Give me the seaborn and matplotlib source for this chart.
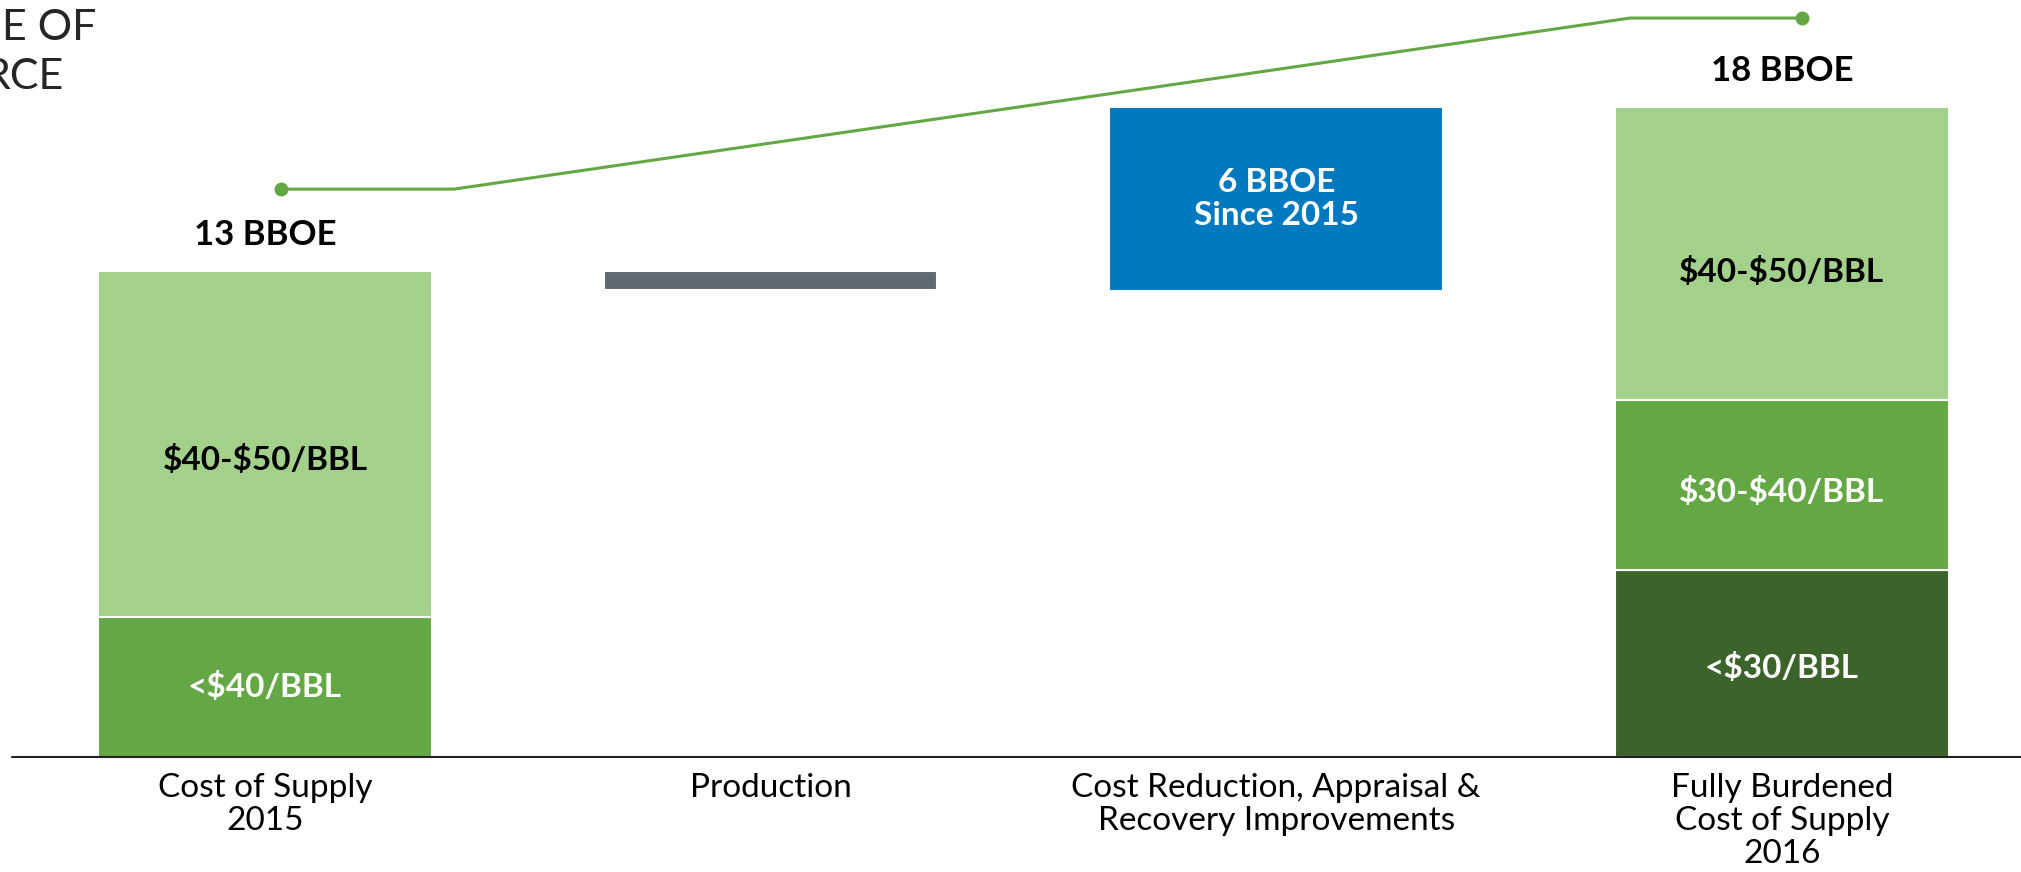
import matplotlib
matplotlib.use("Agg")
import matplotlib.pyplot as plt
import seaborn as sns
import pandas as pd

# categories on the x axis
categories = ["Cost of Supply\n2015", "Production",
              "Cost Reduction, Appraisal &\nRecovery Improvements",
              "Fully Burdened\nCost of Supply\n2016"]

# waterfall segments (BBOE, schematic as drawn)
seg_category = [0, 0, 1, 2, 3, 3, 3]
seg_bottom = [0.0, 3.88, 12.94, 12.91, 0.0, 5.18, 9.89]
seg_height = [3.88, 9.58, 0.52, 5.09, 5.18, 4.71, 8.11]
seg_label = ["<$40/BBL", "$40-$50/BBL", "", "6 BBOE\nSince 2015",
             "<$30/BBL", "$30-$40/BBL", "$40-$50/BBL"]
seg_color = ["#63A844", "#A3D08B", "#5D6A72", "#0079C1",
             "#3B632A", "#63A844", "#A3D08B"]
seg_text_color = ["white", "black", "white", "white", "white", "white", "black"]
label_shift = [0.0, -0.45, 0.0, 0.0, -0.12, -0.2, -0.5]

# totals above bars
total_category = [0, 3]
total_value = [13.46, 18.0]
total_label = ["13 BBOE", "18 BBOE"]

# green trend line across the top
trend_x = [0.032, 0.374, 2.70, 3.04]
trend_y = [15.73, 15.73, 20.47, 20.47]

sns.set_style("white")
plt.rcParams['font.family'] = ['Lato', 'DejaVu Sans']

fig = plt.figure(figsize=(20.21, 8.72), dpi=100)
ax = fig.add_axes([0, 0, 1, 1])

df = pd.DataFrame({"cat": [categories[i] for i in seg_category],
                   "height": seg_height, "bottom": seg_bottom,
                   "color": seg_color})

for i, row in df.iterrows():
    sns.barplot(x=[row["cat"]], y=[row["height"]], order=categories,
                bottom=row["bottom"], color=row["color"], width=0.66,
                errorbar=None, edgecolor="white", linewidth=1.5,
                saturation=1, ax=ax)
    if seg_label[i]:
        ax.text(seg_category[i], row["bottom"] + row["height"] / 2 + label_shift[i],
                seg_label[i].replace("$", r"\$"), ha="center", va="center",
                color=seg_text_color[i], fontsize=24, fontweight="bold",
                linespacing=1.15)

for c, v, lab in zip(total_category, total_value, total_label):
    ax.text(c, v + 1.0, lab, ha="center", va="center", fontsize=25,
            fontweight="bold", color="black")

ax.plot(trend_x, trend_y, color="#63A844", lw=2.2, marker="o",
        markersize=9, markevery=[0, len(trend_x) - 1])

for i, cat in enumerate(categories):
    ax.text(i, -0.45, cat, ha="center", va="top", fontsize=24,
            color="black", linespacing=1.12)

ax.set_xlim(-0.524, 3.473)
ax.set_ylim(-3.19, 20.97)
ax.axhline(0, xmin=0.006, xmax=1, color="#222222", lw=1.5)
ax.axis("off")

# cut-off heading at top-left
fig.text(96 / 2021, 1 - 28 / 872, "E OF", ha="right", va="center", fontsize=31)
fig.text(63 / 2021, 1 - 77 / 872, "RCE", ha="right", va="center", fontsize=31)

fig.savefig("out.png", dpi=100)
